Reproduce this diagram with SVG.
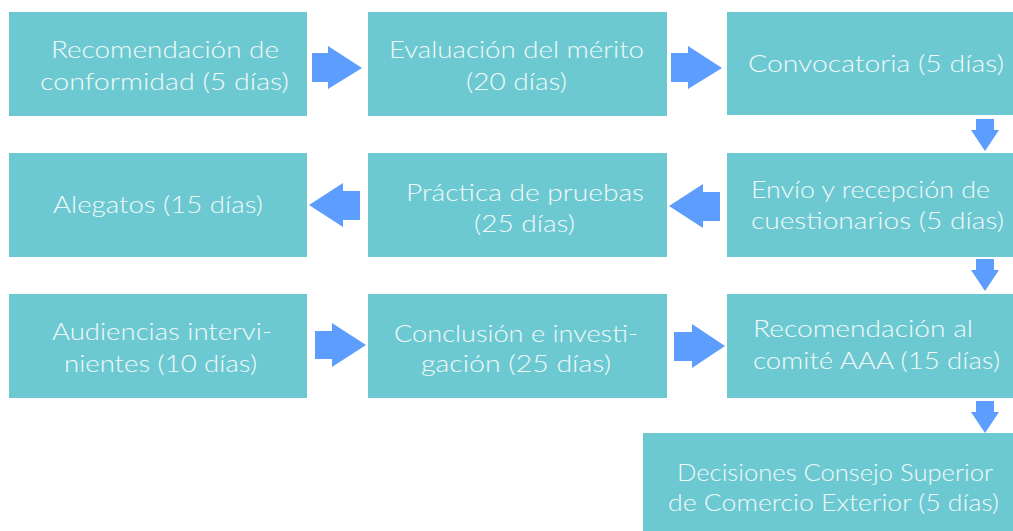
<svg xmlns="http://www.w3.org/2000/svg" width="1013" height="531" viewBox="0 0 1013 531">
<style>
.box{fill:#6DC9D1}
.arr{fill:#5C9DFD}
text{font-family:Lato,"Open Sans","Liberation Sans",sans-serif;font-weight:300;font-size:24px;fill:#F2F9F9}
</style>
<rect width="1013" height="531" fill="#FFFFFF"/>
<g id="n1"><rect class="box" x="9" y="12" width="298" height="104"/>
<text x="51" y="58" textLength="228" lengthAdjust="spacingAndGlyphs">Recomendación de</text>
<text x="40" y="90" textLength="249" lengthAdjust="spacingAndGlyphs">conformidad (5 días)</text></g>
<g id="n2"><rect class="box" x="368" y="12" width="299" height="104"/>
<text x="389" y="58" textLength="255" lengthAdjust="spacingAndGlyphs">Evaluación del mérito</text>
<text x="466" y="90" textLength="101" lengthAdjust="spacingAndGlyphs">(20 días)</text></g>
<g id="n3"><rect class="box" x="727" y="12" width="290" height="103"/>
<text x="748" y="72" textLength="256" lengthAdjust="spacingAndGlyphs">Convocatoria (5 días)</text></g>
<g id="n4"><rect class="box" x="9" y="153" width="298" height="104"/>
<text x="53" y="213" textLength="210" lengthAdjust="spacingAndGlyphs">Alegatos (15 días)</text></g>
<g id="n5"><rect class="box" x="368" y="153" width="299" height="104"/>
<text x="406" y="201" textLength="238" lengthAdjust="spacingAndGlyphs">Práctica de pruebas</text>
<text x="474" y="232" textLength="101" lengthAdjust="spacingAndGlyphs">(25 días)</text></g>
<g id="n6"><rect class="box" x="727" y="153" width="290" height="104"/>
<text x="751" y="198" textLength="239" lengthAdjust="spacingAndGlyphs">Envío y recepción de</text>
<text x="751" y="229" textLength="253" lengthAdjust="spacingAndGlyphs">cuestionarios (5 días)</text></g>
<g id="n7"><rect class="box" x="9" y="294" width="298" height="104"/>
<text x="52" y="340" textLength="220" lengthAdjust="spacingAndGlyphs">Audiencias intervi-</text>
<text x="64" y="372" textLength="193" lengthAdjust="spacingAndGlyphs">nientes (10 días)</text></g>
<g id="n8"><rect class="box" x="368" y="294" width="299" height="104"/>
<text x="394" y="342" textLength="244" lengthAdjust="spacingAndGlyphs">Conclusión e investi-</text>
<text x="421" y="372" textLength="190" lengthAdjust="spacingAndGlyphs">gación (25 días)</text></g>
<g id="n9"><rect class="box" x="727" y="294" width="290" height="104"/>
<text x="753" y="337" textLength="220" lengthAdjust="spacingAndGlyphs">Recomendación al</text>
<text x="753" y="369" textLength="247" lengthAdjust="spacingAndGlyphs">comité AAA (15 días)</text></g>
<g id="n10"><rect class="box" x="643" y="433" width="374" height="98"/>
<text x="677" y="481" textLength="316" lengthAdjust="spacingAndGlyphs">Decisiones Consejo Superior</text>
<text x="668" y="511" textLength="331" lengthAdjust="spacingAndGlyphs">de Comercio Exterior (5 días)</text></g>
<g id="connectors">
<polygon class="arr" points="312,53 328,53 328,46 362,68 328,89 328,82 312,82"/>
<polygon class="arr" points="671,53 688,53 688,46 722,68 688,89 688,82 671,82"/>
<polygon class="arr" points="976,119 994,119 994,130 999,130 985,151 971,130 976,130"/>
<polygon class="arr" points="720,192 703,192 703,184 669,206 703,228 703,221 720,221"/>
<polygon class="arr" points="360,191 343,191 343,183 309,205 343,227 343,220 360,220"/>
<polygon class="arr" points="976,259 994,259 994,270 999,270 985,291 971,270 976,270"/>
<polygon class="arr" points="315,331 332,331 332,323 366,345 332,367 332,359 315,359"/>
<polygon class="arr" points="674,332 692,332 692,324 725,346 692,368 692,361 674,361"/>
<polygon class="arr" points="976,401 994,401 994,412 999,412 985,433 971,412 976,412"/>
</g>
</svg>
